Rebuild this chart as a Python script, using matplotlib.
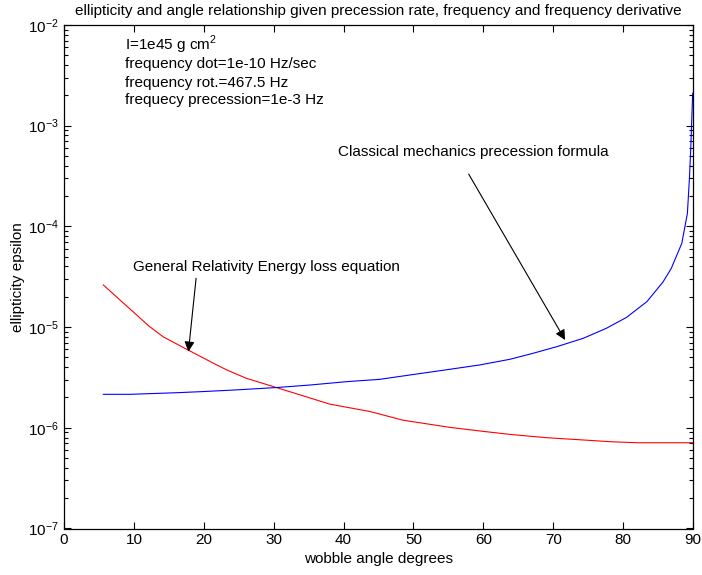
import numpy as np
import matplotlib
matplotlib.use("Agg")
import matplotlib.pyplot as plt
from matplotlib.ticker import LogLocator, FixedLocator

plt.rcParams['font.family'] = ['Liberation Sans', 'DejaVu Sans']
plt.rcParams['mathtext.fontset'] = 'custom'
plt.rcParams['mathtext.rm'] = 'Liberation Sans'

# wobble angle (degrees)
gr_angle = [5.63, 8.0, 10.4, 12.1, 14.2, 17.8, 21.4, 23.3, 26.1, 30.4, 33.8, 38.0,
            43.8, 48.5, 55.2, 59.5, 63.8, 69.1, 74.3, 78.1, 81.9, 90.0]
gr_eps = [2.62e-5, 1.86e-5, 1.32e-5, 1.03e-5, 8.0e-6, 5.9e-6, 4.37e-6, 3.75e-6, 3.1e-6,
          2.51e-6, 2.12e-6, 1.72e-6, 1.45e-6, 1.19e-6, 1.01e-6, 9.3e-7, 8.6e-7, 7.97e-7,
          7.57e-7, 7.28e-7, 7.11e-7, 7.11e-7]

cm_angle = [5.63, 9.4, 16.1, 19.9, 24.2, 30.4, 35.2, 40.4, 45.2, 48.5, 55.2, 59.5, 63.8,
            67.1, 70.5, 74.3, 77.6, 80.5, 83.4, 85.7, 86.9, 88.4, 89.2, 89.5, 89.7, 89.95]
cm_eps = [2.15e-6, 2.15e-6, 2.23e-6, 2.29e-6, 2.37e-6, 2.51e-6, 2.66e-6, 2.87e-6, 3.03e-6,
          3.27e-6, 3.81e-6, 4.21e-6, 4.79e-6, 5.49e-6, 6.39e-6, 7.74e-6, 9.73e-6, 1.25e-5,
          1.79e-5, 2.8e-5, 3.84e-5, 6.8e-5, 1.35e-4, 3.1e-4, 6.45e-4, 2.1e-3]

x_ticks = [0, 10, 20, 30, 40, 50, 60, 70, 80, 90]
info_lines = ['I=1e45 g cm$^2$', 'frequency dot=1e-10 Hz/sec',
              'frequency rot.=467.5 Hz', 'frequecy precession=1e-3 Hz']

fs = 11
fig = plt.figure(figsize=(7.02, 5.75), dpi=100)
ax = fig.add_axes([64 / 702, 1 - 528.5 / 575, 629 / 702, 503.5 / 575])

ax.semilogy(gr_angle, gr_eps, color='red', lw=0.8)
ax.semilogy(cm_angle, cm_eps, color='blue', lw=0.8)

ax.set_xlim(0, 90)
ax.set_ylim(1e-7, 1e-2)
ax.xaxis.set_major_locator(FixedLocator(x_ticks))
ax.yaxis.set_major_locator(LogLocator(base=10, numticks=10))
ax.yaxis.set_minor_locator(LogLocator(base=10, subs=np.arange(2, 10), numticks=20))
ax.tick_params(which='both', direction='in', top=True, right=True, labelsize=fs, width=0.8)
ax.tick_params(which='major', length=5)
ax.tick_params(which='minor', length=3)
for s in ax.spines.values():
    s.set_linewidth(0.9)

ax.set_xlabel('wobble angle degrees', fontsize=fs, labelpad=3)
ax.set_ylabel('ellipticity epsilon', fontsize=fs, labelpad=2)
ax.set_title('ellipticity and angle relationship given precession rate, frequency and frequency derivative',
             fontsize=fs, pad=7)

# parameter text block
for txt, yv in zip(info_lines, [5.65e-3, 3.70e-3, 2.45e-3, 1.64e-3]):
    ax.text(8.73, yv, txt, fontsize=fs, va='baseline', ha='left')

arrow = dict(arrowstyle='-|>', color='k', lw=0.8, mutation_scale=15, shrinkA=0, shrinkB=0)
ax.text(9.83, 3.98e-5, 'General Relativity Energy loss equation', fontsize=fs, va='center')
ax.annotate('', xy=(17.8, 5.7e-6), xytext=(18.9, 3.05e-5), arrowprops=arrow)
ax.text(39.2, 5.48e-4, 'Classical mechanics precession formula', fontsize=fs, va='center')
ax.annotate('', xy=(71.7, 7.45e-6), xytext=(57.9, 3.31e-4), arrowprops=arrow)

fig.savefig('out.png', dpi=100)
